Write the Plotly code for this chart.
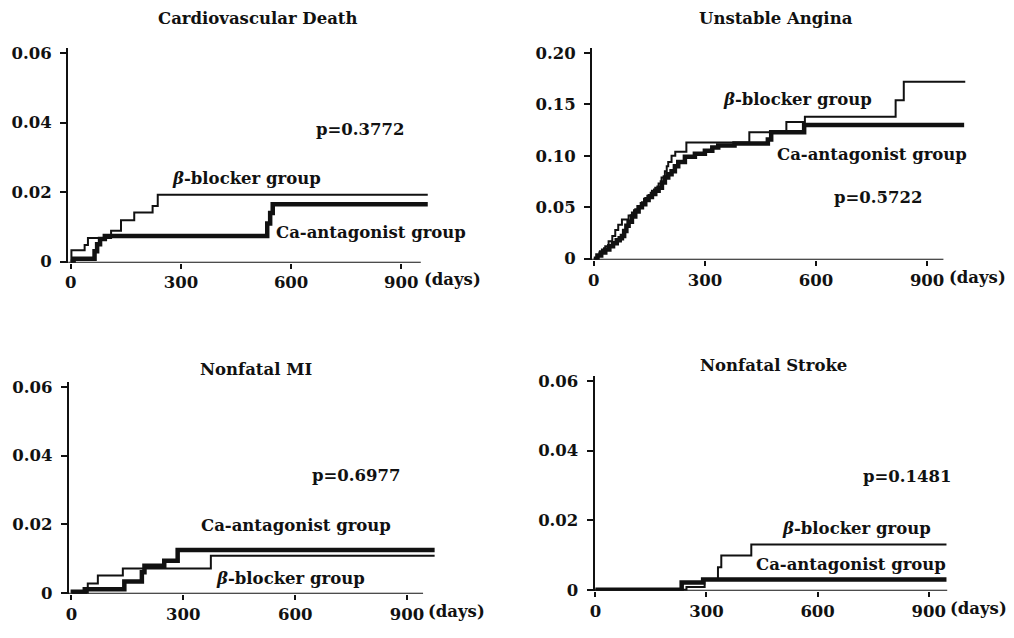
import plotly.graph_objects as go

W, H = 1014, 638
FONT = "DejaVu Serif"
INK = "#111111"
FS = 16.5

# ---------------- data ----------------
titles = ["Cardiovascular Death", "Unstable Angina", "Nonfatal MI", "Nonfatal Stroke"]
p_values = ["p=0.3772", "p=0.5722", "p=0.6977", "p=0.1481"]

y_tickvals_small = [0, 0.02, 0.04, 0.06]
y_ticktext_small = ["0", "0.02", "0.04", "0.06"]
y_tickvals_ua = [0, 0.05, 0.10, 0.15, 0.20]
y_ticktext_ua = ["0", "0.05", "0.10", "0.15", "0.20"]
x_tickvals = [0, 300, 600, 900]
x_ticktext = ["0", "300", "600", "900"]

# Cardiovascular death
cvd_beta_days = [0, 2, 38, 47, 110, 137, 173, 223, 237, 972]
cvd_beta_vals = [0, 0.0033, 0.0048, 0.0068, 0.0089, 0.0119, 0.0141, 0.0160, 0.0192, 0.0192]
cvd_ca_days = [0, 8, 65, 72, 80, 93, 535, 543, 550, 972]
cvd_ca_vals = [0, 0.0008, 0.0030, 0.0050, 0.0065, 0.0074, 0.0110, 0.0140, 0.0165, 0.0165]

# Unstable angina
ua_beta_days = [0, 8, 15, 22, 31, 40, 50, 58, 66, 76, 94, 103, 112, 121, 130, 139, 148, 157,
                166, 175, 183, 192, 197, 201, 210, 220, 250, 420, 520, 570, 815, 837, 1003]
ua_beta_vals = [0, 0.003, 0.006, 0.009, 0.012, 0.017, 0.022, 0.028, 0.033, 0.038, 0.042, 0.045,
                0.048, 0.051, 0.055, 0.059, 0.062, 0.066, 0.069, 0.073, 0.079, 0.085, 0.090,
                0.094, 0.100, 0.104, 0.113, 0.123, 0.133, 0.138, 0.154, 0.172, 0.172]
ua_ca_days = [0, 10, 20, 31, 42, 52, 62, 70, 76, 82, 88, 94, 103, 112, 121, 130, 139, 148, 157,
              166, 175, 184, 192, 201, 210, 219, 228, 246, 273, 300, 320, 336, 380, 470, 479,
              568, 1000]
ua_ca_vals = [0, 0.003, 0.006, 0.009, 0.012, 0.015, 0.018, 0.020, 0.022, 0.027, 0.032, 0.036,
              0.041, 0.046, 0.050, 0.053, 0.057, 0.060, 0.063, 0.066, 0.069, 0.074, 0.079,
              0.082, 0.085, 0.090, 0.094, 0.099, 0.102, 0.105, 0.108, 0.110, 0.112, 0.116,
              0.123, 0.130, 0.130]

# Nonfatal MI
mi_beta_days = [0, 44, 71, 138, 374, 974]
mi_beta_vals = [0, 0.0027, 0.0050, 0.0071, 0.0108, 0.0108]
mi_ca_days = [0, 4, 36, 142, 189, 196, 249, 285, 974]
mi_ca_vals = [0, 0.0003, 0.0010, 0.0033, 0.0060, 0.0079, 0.0093, 0.0125, 0.0125]

# Nonfatal stroke
st_beta_days = [0, 246, 295, 331, 340, 421, 948]
st_beta_vals = [0, 0.0008, 0.0030, 0.0065, 0.0099, 0.0130, 0.0130]
st_ca_days = [0, 233, 291, 948]
st_ca_vals = [0, 0.0021, 0.0030, 0.0030]

beta_label = "<i>β</i>-blocker group"
ca_label = "Ca-antagonist group"

# ---------------- layout geometry (pixels) ----------------
panels = [
    dict(x0=66.0, ppd=0.3692, y0=263, ppu=3550, xr=[-7, 975], yr=[-0.0003, 0.0615], axis_end=953,
         yt=(y_tickvals_small, y_ticktext_small),
         beta=(cvd_beta_days, cvd_beta_vals), ca=(cvd_ca_days, cvd_ca_vals),
         title=(254, 15), p=(357, 128), bl=(243, 178), cl=(368, 233), days=(450, 281)),
    dict(x0=591.7, ppd=0.3722, y0=260, ppu=1050, xr=[-5, 1006], yr=[-0.001, 0.205], axis_end=944,
         yt=(y_tickvals_ua, y_ticktext_ua),
         beta=(ua_beta_days, ua_beta_vals), ca=(ua_ca_days, ua_ca_vals),
         title=(775, 15), p=(878, 198), bl=(796, 97), cl=(871, 154), days=(977, 279)),
    dict(x0=66.7, ppd=0.3748, y0=601, ppu=3500, xr=[-7, 977], yr=[-0.0003, 0.0615], axis_end=943,
         yt=(y_tickvals_small, y_ticktext_small),
         beta=(mi_beta_days, mi_beta_vals), ca=(mi_ca_days, mi_ca_vals),
         title=(252, 373), p=(353, 481), bl=(287, 586), cl=(292, 532), days=(454, 620)),
    dict(x0=593.3, ppd=0.3722, y0=598, ppu=3550, xr=[-2, 952], yr=[-0.0003, 0.0615], axis_end=950,
         yt=(y_tickvals_small, y_ticktext_small),
         beta=(st_beta_days, st_beta_vals), ca=(st_ca_days, st_ca_vals),
         title=(772, 369), p=(907, 482), bl=(856, 535), cl=(850, 572), days=(978, 617)),
]

fig = go.Figure()
layout = dict(width=W, height=H, margin=dict(l=0, r=0, t=0, b=0),
              paper_bgcolor="white", plot_bgcolor="white", showlegend=False,
              font=dict(family=FONT, size=FS, color=INK, weight="bold"))
annotations = []
shapes = []

for i, p in enumerate(panels):
    n = "" if i == 0 else str(i + 1)
    xa, ya = "x" + n, "y" + n
    left = p["x0"] + p["xr"][0] * p["ppd"]
    right = p["x0"] + p["xr"][1] * p["ppd"]
    top = p["y0"] - p["yr"][1] * p["ppu"]
    bottom = p["y0"] - p["yr"][0] * p["ppu"]
    tf = dict(family=FONT, size=FS, color=INK, weight="bold")
    layout["xaxis" + n] = dict(domain=[left / W, right / W], range=p["xr"], anchor=ya,
                               showline=False, showgrid=False, zeroline=False,
                               ticks="outside", ticklen=5, tickwidth=1.5, tickcolor=INK,
                               tickvals=x_tickvals, ticktext=x_ticktext, tickfont=tf)
    layout["yaxis" + n] = dict(domain=[1 - bottom / H, 1 - top / H], range=p["yr"], anchor=xa,
                               showline=True, linewidth=2, linecolor=INK,
                               showgrid=False, zeroline=False,
                               ticks="outside", ticklen=6, tickwidth=1.5, tickcolor=INK,
                               tickvals=p["yt"][0], ticktext=p["yt"][1],
                               ticklabelstandoff=5, tickfont=tf)
    # x axis line
    shapes.append(dict(type="line", xref=xa, yref=ya, x0=p["xr"][0], x1=p["axis_end"],
                       y0=p["yr"][0], y1=p["yr"][0], line=dict(color=INK, width=2)))
    # curves
    fig.add_trace(go.Scatter(x=p["ca"][0], y=p["ca"][1], mode="lines", xaxis=xa, yaxis=ya,
                             line=dict(shape="hv", color=INK, width=4.5)))
    fig.add_trace(go.Scatter(x=p["beta"][0], y=p["beta"][1], mode="lines", xaxis=xa, yaxis=ya,
                             line=dict(shape="hv", color=INK, width=2)))

    def ann(text, pos):
        annotations.append(dict(text=text, x=pos[0] / W, y=1 - pos[1] / H, xref="paper",
                                yref="paper", showarrow=False, xanchor="center",
                                yanchor="middle",
                                font=dict(family=FONT, size=FS, color=INK, weight="bold")))
    ann(titles[i], p["title"])
    ann(p_values[i], p["p"])
    ann(beta_label, p["bl"])
    ann(ca_label, p["cl"])
    ann("(days)", p["days"])

layout["annotations"] = annotations
layout["shapes"] = shapes
fig.update_layout(**layout)
fig.write_html("out.html")
